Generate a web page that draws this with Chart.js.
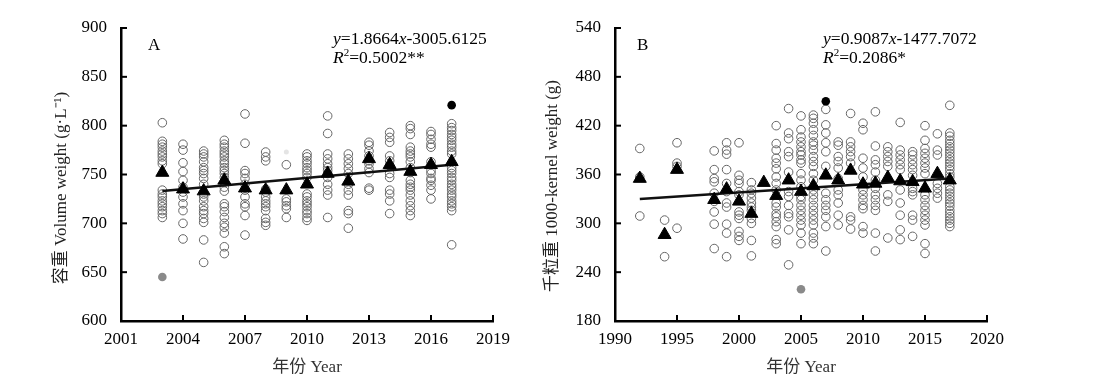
<!DOCTYPE html>
<html>
<head>
<meta charset="utf-8">
<script src="https://cdn.jsdelivr.net/npm/chart.js@4"></script>
<style>
  body { margin: 0; background: #fff; width: 1110px; height: 390px; position: relative; overflow: hidden; }
  canvas { position: absolute; top: 0; }
  #chartA { left: 0; }
  #chartB { left: 530px; }
</style>
</head>
<body>
<canvas id="chartA" width="530" height="390"></canvas>
<canvas id="chartB" width="580" height="390"></canvas>
<script>
// A: 容重 volume weight
var volYears = [2003, 2004, 2005, 2006, 2007, 2008, 2009, 2010, 2011, 2012, 2013, 2014, 2015, 2016, 2017];
var volPoints = [
  [803, 784, 781, 778, 774, 771, 768, 764, 761, 734, 730, 727, 723, 720, 717, 713, 710, 706],
  [781, 775, 762, 753, 744, 737, 732, 727, 720, 713, 700, 684],
  [774, 771, 768, 763, 757, 754, 751, 746, 740, 730, 727, 723, 717, 713, 710, 705, 701, 683, 660],
  [785, 781, 778, 774, 771, 768, 764, 761, 757, 754, 751, 747, 742, 737, 733, 720, 717, 712, 706, 700, 696, 690, 676, 669],
  [812, 782, 754, 751, 746, 740, 734, 727, 720, 717, 708, 688],
  [773, 768, 764, 735, 732, 727, 723, 720, 717, 713, 705, 701, 698],
  [760, 725, 722, 718, 715, 706],
  [771, 768, 764, 761, 757, 754, 751, 747, 730, 727, 723, 720, 717, 713, 710, 706, 703],
  [810, 792, 771, 766, 761, 757, 754, 751, 747, 740, 734, 729, 706],
  [771, 766, 761, 756, 751, 740, 734, 729, 713, 710, 695],
  [783, 780, 774, 769, 764, 761, 756, 752, 736, 734],
  [793, 788, 783, 769, 764, 759, 751, 747, 734, 730, 723, 710],
  [800, 797, 791, 778, 774, 771, 768, 763, 757, 752, 744, 740, 737, 734, 729, 723, 718, 713, 708],
  [794, 791, 786, 781, 778, 763, 754, 751, 746, 744, 739, 734, 725],
  [802, 798, 795, 791, 788, 785, 781, 778, 774, 771, 757, 754, 751, 747, 744, 740, 737, 734, 730, 727, 723, 720, 717, 713, 678]
];
var volMeans = [752, 735, 733, 744, 736, 734, 734, 740, 751, 743, 766, 760, 753, 760, 763];
var volTrendX = [2003, 2017];
var volTrendY = [733, 760];
var volGray = [{x: 2003, y: 645}];
var volBlack = [{x: 2017, y: 821}];
var volFaint = [{x: 2009, y: 773}];

// B: 千粒重 1000-kernel weight
var kwYears = [1992, 1994, 1995, 1998, 1999, 2000, 2001, 2002, 2003, 2004, 2005, 2006, 2007, 2008, 2009, 2010, 2011, 2012, 2013, 2014, 2015, 2016, 2017];
var kwPoints = [
  [392, 357, 309],
  [304, 259],
  [399, 374, 370, 294],
  [389, 366, 355, 351, 337, 327, 314, 299, 269],
  [399, 390, 385, 366, 349, 339, 325, 320, 299, 288, 259],
  [399, 359, 353, 349, 339, 335, 314, 310, 306, 290, 284, 279],
  [350, 341, 337, 331, 325, 320, 316, 306, 300, 279, 260],
  [],
  [420, 398, 390, 380, 374, 367, 357, 349, 341, 325, 320, 312, 308, 302, 296, 280, 275],
  [441, 411, 404, 388, 382, 363, 339, 333, 322, 312, 308, 292, 249],
  [432, 415, 406, 400, 394, 388, 384, 378, 374, 361, 353, 345, 333, 329, 322, 316, 310, 304, 298, 288, 275],
  [433, 429, 423, 415, 408, 400, 396, 390, 382, 376, 370, 361, 353, 341, 335, 329, 322, 316, 310, 304, 298, 288, 282, 275],
  [440, 421, 411, 399, 388, 370, 337, 329, 322, 316, 308, 296, 266],
  [400, 396, 382, 376, 368, 355, 341, 335, 325, 310, 298],
  [435, 400, 394, 388, 382, 374, 308, 304, 293],
  [423, 415, 380, 368, 357, 341, 335, 329, 322, 318, 296, 288],
  [437, 395, 378, 372, 363, 353, 343, 335, 329, 322, 316, 288, 266],
  [394, 388, 382, 376, 370, 335, 327, 282],
  [424, 390, 384, 378, 372, 366, 341, 325, 310, 292, 280],
  [388, 384, 378, 372, 366, 359, 343, 339, 335, 310, 304, 284],
  [420, 402, 392, 386, 380, 374, 368, 361, 335, 329, 322, 316, 310, 304, 298, 275, 263],
  [410, 390, 384, 349, 343, 337, 331],
  [445, 411, 407, 402, 398, 394, 390, 386, 382, 378, 374, 370, 366, 361, 357, 345, 341, 337, 333, 329, 325, 321, 316, 312, 308, 304, 300, 296]
];
var kwMeans = [355, 286, 366, 329, 342, 327, 312, 350, 334, 353, 339, 346, 359, 353, 365, 348, 349, 356, 352, 351, 343, 361, 353];
var kwTrendX = [1992, 2017];
var kwTrendY = [330, 355];
var kwGray = [{x: 2005, y: 219}];
var kwBlack = [{x: 2007, y: 450}];

var serif = "'Liberation Serif', 'Noto Sans CJK SC', serif";

function toXY(years, vals) {
  return years.map((yr, i) => ({x: yr, y: vals[i]}));
}

function scatterXY(years, lists) {
  var out = [];
  years.forEach((yr, i) => lists[i].forEach(v => out.push({x: yr, y: v})));
  return out;
}

// ticks that point into the plot
var innerTicks = {
  id: 'innerTicks',
  afterDraw(chart) {
    const ctx = chart.ctx;
    const xs = chart.scales.x, ys = chart.scales.y;
    ctx.save();
    ctx.strokeStyle = '#000';
    ctx.lineWidth = 2;
    xs.ticks.forEach(t => {
      const px = xs.getPixelForValue(t.value);
      ctx.beginPath();
      ctx.moveTo(px, ys.bottom);
      ctx.lineTo(px, ys.bottom - 6);
      ctx.stroke();
    });
    ys.ticks.forEach(t => {
      const py = ys.getPixelForValue(t.value);
      ctx.beginPath();
      ctx.moveTo(xs.left, py);
      ctx.lineTo(xs.left + 6, py);
      ctx.stroke();
    });
    ctx.restore();
  }
};

// panel letter, y title and regression text
var notes = {
  id: 'notes',
  afterDraw(chart) {
    const o = chart.options.plugins.notes;
    const ctx = chart.ctx;
    ctx.save();
    ctx.fillStyle = '#000';
    ctx.textBaseline = 'alphabetic';
    ctx.font = '17px ' + serif;
    ctx.fillText(o.letter, o.letterX, o.letterY);
    o.lines.forEach(line => {
      let x = o.eqX;
      line.parts.forEach(p => {
        ctx.font = (p.i ? 'italic ' : '') + (p.sup ? '11px ' : '17.5px ') + serif;
        ctx.fillText(p.t, x, line.y - (p.sup ? 7 : 0));
        x += ctx.measureText(p.t).width;
      });
    });
    ctx.translate(o.yTitleX, o.yTitleY);
    ctx.rotate(-Math.PI / 2);
    ctx.textAlign = 'center';
    ctx.textBaseline = 'middle';
    ctx.fillStyle = '#222';
    ctx.font = '17px ' + serif;
    ctx.fillText(o.yTitle, 0, 0);
    ctx.restore();
  }
};

function makeChart(id, cfg) {
  const openPts = {
    label: 'obs', data: cfg.points, order: 3,
    pointStyle: 'circle', pointRadius: 4.3, borderWidth: 1,
    borderColor: '#666', backgroundColor: 'rgba(0,0,0,0)'
  };
  const extra = cfg.extra.map(e => ({
    label: 'extra', data: e.data, order: 2, pointStyle: 'circle',
    pointRadius: e.r, borderWidth: 0, backgroundColor: e.color, borderColor: e.color
  }));
  const trend = {
    type: 'line', label: 'trend', data: toXY(cfg.trendX, cfg.trendY), order: 1,
    borderColor: '#111', borderWidth: 2.5, pointRadius: 0, showLine: true, fill: false
  };
  const means = {
    label: 'mean', data: toXY(cfg.years, cfg.means), order: 0,
    pointStyle: 'triangle', pointRadius: 7.5, borderWidth: 1,
    borderColor: '#000', backgroundColor: '#000'
  };
  return new Chart(document.getElementById(id), {
    type: 'scatter',
    data: { datasets: [openPts].concat(extra, [trend, means]) },
    plugins: [innerTicks, notes],
    options: {
      responsive: false,
      animation: false,
      events: [],
      layout: { padding: { left: 0, top: 28, right: cfg.padRight, bottom: 0 } },
      plugins: {
        legend: { display: false },
        tooltip: { enabled: false },
        notes: cfg.notes
      },
      scales: {
        x: {
          type: 'linear', min: cfg.xMin, max: cfg.xMax,
          grid: { display: false },
          border: { display: true, color: '#000', width: 2.5 },
          ticks: { stepSize: cfg.xStep, color: '#000', font: { family: serif, size: 17 }, padding: 0,
                   maxRotation: 0, callback: v => String(v) },
          title: { display: true, text: '年份 Year', color: '#333', font: { family: serif, size: 17 },
                   padding: { top: 8, bottom: 12 } },
          afterFit(s) { s.height = 69; }
        },
        y: {
          min: cfg.yMin, max: cfg.yMax,
          grid: { display: false },
          border: { display: true, color: '#000', width: 2.5 },
          ticks: { stepSize: cfg.yStep, color: '#000', font: { family: serif, size: 17 }, padding: 6,
                   callback: v => String(v) },
          title: { display: false },
          afterFit(s) { s.width = cfg.plotLeft; }
        }
      }
    }
  });
}

makeChart('chartA', {
  points: scatterXY(volYears, volPoints),
  years: volYears, means: volMeans, trendX: volTrendX, trendY: volTrendY,
  extra: [
    { data: volGray, color: '#8a8a8a', r: 4.3 },
    { data: volBlack, color: '#000', r: 4.3 },
    { data: volFaint, color: '#e4e4e4', r: 2.5 }
  ],
  xMin: 2001, xMax: 2019, xStep: 3, yMin: 600, yMax: 900, yStep: 50,
  plotLeft: 121, padRight: 37,
  notes: {
    letter: 'A', letterX: 148, letterY: 50, eqX: 333,
    yTitle: '容重 Volume weight (g·L⁻¹)', yTitleX: 62, yTitleY: 188,
    lines: [
      { y: 44, parts: [{t: 'y', i: true}, {t: '=1.8664'}, {t: 'x', i: true}, {t: '-3005.6125'}] },
      { y: 63, parts: [{t: 'R', i: true}, {t: '2', sup: true}, {t: '=0.5002**'}] }
    ]
  }
});

makeChart('chartB', {
  points: scatterXY(kwYears, kwPoints),
  years: kwYears, means: kwMeans, trendX: kwTrendX, trendY: kwTrendY,
  extra: [
    { data: kwGray, color: '#8a8a8a', r: 4.3 },
    { data: kwBlack, color: '#000', r: 4.3 }
  ],
  xMin: 1990, xMax: 2020, xStep: 5, yMin: 180, yMax: 540, yStep: 60,
  plotLeft: 85, padRight: 123,
  notes: {
    letter: 'B', letterX: 107, letterY: 50, eqX: 293,
    yTitle: '千粒重 1000-kernel weight (g)', yTitleX: 23, yTitleY: 186,
    lines: [
      { y: 44, parts: [{t: 'y', i: true}, {t: '=0.9087'}, {t: 'x', i: true}, {t: '-1477.7072'}] },
      { y: 63, parts: [{t: 'R', i: true}, {t: '2', sup: true}, {t: '=0.2086*'}] }
    ]
  }
});
</script>
</body>
</html>
